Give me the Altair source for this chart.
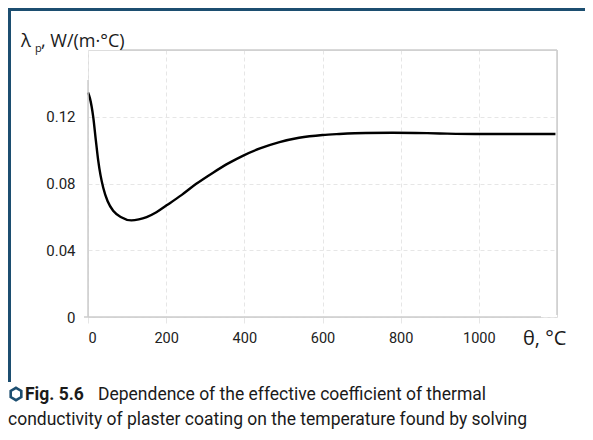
import altair as alt
import pandas as pd

# ---- data ----
theta = [0, 5, 13.5, 20, 26, 32, 39, 50, 65, 85, 111, 130, 150, 175, 201, 240,
         277, 320, 360, 396, 440, 490, 540, 600, 643, 711, 780, 838, 900, 991, 1100, 1196]
lam = [0.1345, 0.1310, 0.1196, 0.1060, 0.0940, 0.0850, 0.0775, 0.0695, 0.0635, 0.0598,
       0.0579, 0.0585, 0.0599, 0.0628, 0.0669, 0.0732, 0.0798, 0.0865, 0.0922, 0.0966,
       0.1010, 0.1048, 0.1074, 0.1091, 0.1097, 0.1103, 0.1104, 0.1103, 0.1100, 0.1097,
       0.1097, 0.1097]
x_ticks = [0, 200, 400, 600, 800, 1000]
y_ticks = [0, 0.04, 0.08, 0.12]
x_title = "θ, °C"
y_title_main = "λ"
y_title_sub = "p"
y_title_rest = ", W/(m·°C)"
cap_bold = "Fig. 5.6"
cap_line1 = "Dependence of the effective coefficient of thermal"
cap_line2 = "conductivity of plaster coating on the temperature found by solving"

W, H = 469, 267
NARROW = "Roboto, sans-serif"
HUMAN = "Open Sans, Noto Sans, sans-serif"
BLUE = "#1c4e70"
FRAME = "#cccccc"

df = pd.DataFrame({"theta": theta, "lam": lam})
one = alt.Data(values=[{"k": 1}])

xs = alt.Scale(domain=[0, 1200], nice=False)
ys = alt.Scale(domain=[0, 0.16], nice=False)

curve = alt.Chart(df).mark_line(color="black", strokeWidth=2.4, interpolate="monotone").encode(
    x=alt.X("theta:Q", scale=xs,
            axis=alt.Axis(values=x_ticks, title=None, domain=False, ticks=True, tickSize=6,
                          tickColor="#e6e6e6", labelFont=NARROW, labelFontSize=14.5,
                          labelColor="#222222", labelPadding=8, gridColor="#e6e6e6",
                          gridDash=[4, 3], gridWidth=1, labelExpr="toString(datum.value)")),
    y=alt.Y("lam:Q", scale=ys,
            axis=alt.Axis(values=y_ticks, title=None, domain=False, ticks=False,
                          labelFont=NARROW, labelFontSize=15, labelColor="#222222",
                          labelPadding=13, gridColor="#e6e6e6", gridDash=[4, 3], gridWidth=1,
                          labelExpr="datum.value == 0 ? '0' : format(datum.value, '.2f')")),
)

def rule(x, y, x2=None, y2=None, color=FRAME, width=1.5):
    enc = dict(x=alt.value(x), y=alt.value(y))
    if x2 is not None:
        enc["x2"] = alt.value(x2)
    if y2 is not None:
        enc["y2"] = alt.value(y2)
    return alt.Chart(one).mark_rule(color=color, strokeWidth=width).encode(**enc)

frame = [
    rule(0, 30, y2=H),                          # left axis line
    rule(-4, H, x2=453),                        # bottom axis line
    rule(32, 0, x2=W),                          # top border
    rule(W, 0, y2=H - 2),                       # right border
    rule(-80, -40.5, x2=W + 28, color=BLUE, width=3),   # blue top line
    rule(-78.5, -42, y2=332, color=BLUE, width=3),      # blue left line
]

def text(s, x, y, size, font, weight="normal", color="#1a1a1a"):
    return alt.Chart(one).mark_text(text=s, align="left", baseline="alphabetic", font=font,
                                    fontSize=size, fontWeight=weight, color=color).encode(
        x=alt.value(x), y=alt.value(y))

texts = [
    text(y_title_main, -67, -3, 18.5, HUMAN),
    text(y_title_sub, -53, 2, 11, HUMAN),
    text(y_title_rest, -47, -3, 18, HUMAN),
    text(x_title, 435, 295, 20, HUMAN),
    text(cap_bold, -63, 350, 17.5, NARROW, weight="bold"),
    text(cap_line1, 10, 350, 17.5, NARROW),
    text(cap_line2, -80, 375, 17.5, NARROW),
]

hexagon = alt.Chart(one).mark_point(
    shape="M0,-1L0.866,-0.5L0.866,0.5L0,1L-0.866,0.5L-0.866,-0.5Z",
    filled=False, stroke=BLUE, strokeWidth=2.6, size=150, opacity=1).encode(
    x=alt.value(-72), y=alt.value(344))

chart = alt.layer(curve, *frame, *texts, hexagon).properties(
    width=W, height=H,
    autosize=alt.AutoSizeParams(type="none"),
    padding={"left": 80, "top": 42, "right": 28, "bottom": 115},
).configure_view(stroke=None).configure(background="white")

chart.save("out.html", embed_options={"renderer": "svg", "actions": False})
